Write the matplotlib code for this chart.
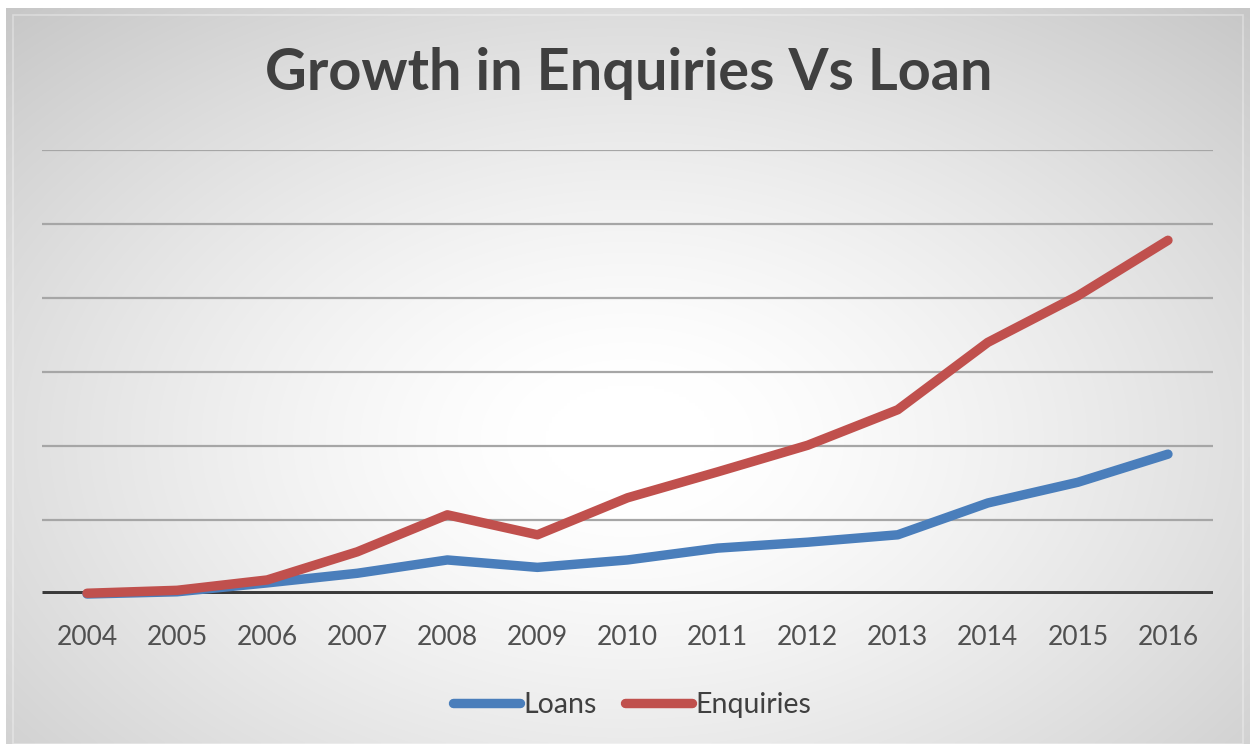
import numpy as np
import matplotlib
matplotlib.use("Agg")
import matplotlib.pyplot as plt
from matplotlib.lines import Line2D

years = ["2004", "2005", "2006", "2007", "2008", "2009", "2010",
         "2011", "2012", "2013", "2014", "2015", "2016"]
loans = [0.00, 0.03, 0.15, 0.28, 0.46, 0.36, 0.46, 0.62, 0.70, 0.80, 1.23, 1.51, 1.89]
enquiries = [0.01, 0.05, 0.19, 0.57, 1.07, 0.80, 1.30, 1.65, 2.01, 2.49, 3.40, 4.03, 4.78]

title = "Growth in Enquiries Vs Loan"
BLUE = "#4a7ebb"
RED = "#c0504d"
TEXT = "#404040"

W, H, DPI = 1256, 744, 100
fig = plt.figure(figsize=(W / DPI, H / DPI), dpi=DPI, facecolor="white")

def fx(px):
    return px / W

def fy(py):
    return 1 - py / H

# chart area with a radial gradient fill
bx0, by0, bx1, by1 = 6, 8, 1250, 744
bg = fig.add_axes([fx(bx0), fy(by1), fx(bx1 - bx0), (by1 - by0) / H])
gx = np.linspace(bx0, bx1, 400)
gy = np.linspace(by0, by1, 260)
XX, YY = np.meshgrid(gx, gy)
d = np.sqrt(((XX - 630) / 720) ** 2 + ((YY - 440) / 470) ** 2)
shade = 1.0 - 0.185 * np.clip(d - 0.12, 0, 1.3) ** 1.3
shade = np.clip(shade, 0, 1)
bg.imshow(np.dstack([shade, shade, shade]), extent=[0, 1, 0, 1], aspect="auto",
          interpolation="bilinear", origin="upper")
bg.set_xlim(0, 1)
bg.set_ylim(0, 1)
bg.axis("off")
bg.add_patch(plt.Rectangle((7 / (bx1 - bx0), 0.0), 1 - 14 / (bx1 - bx0), 1 - 7 / (by1 - by0),
                           fill=False, edgecolor=(1, 1, 1, 0.35), linewidth=1.2,
                           transform=bg.transAxes))

# plot area
px0, px1, py_top, py_base = 42, 1213, 150, 594
ax = fig.add_axes([fx(px0), fy(py_base), fx(px1 - px0), (py_base - py_top) / H])
ax.patch.set_alpha(0)
x = np.arange(len(years))
ax.set_xlim(-0.5, len(years) - 0.5)
ax.set_ylim(0, 6)
for g in range(1, 7):
    ax.axhline(g, color="#a6a6a6", linewidth=1.6, zorder=1)
ax.axhline(0, color="#3a3a3a", linewidth=5, zorder=2, solid_capstyle="butt")

ax.plot(x, loans, color=BLUE, linewidth=6.8, solid_capstyle="round",
        solid_joinstyle="round", zorder=3, clip_on=False)
ax.plot(x, enquiries, color=RED, linewidth=6.8, solid_capstyle="round",
        solid_joinstyle="round", zorder=4, clip_on=False)

for s in ax.spines.values():
    s.set_visible(False)
ax.set_yticks([])
ax.set_xticks(x)
ax.set_xticklabels(years, fontsize=19, color="#505050", family="Lato")
ax.tick_params(axis="x", length=0, pad=22)

fig.text(fx(629), fy(74), title, ha="center", va="center", fontsize=41.5,
         fontweight="bold", color=TEXT, family="Lato")

handles = [Line2D([], [], color=BLUE, linewidth=6.8, solid_capstyle="round"),
           Line2D([], [], color=RED, linewidth=6.8, solid_capstyle="round")]
leg = fig.legend(handles, ["Loans", "Enquiries"], loc="center",
                 bbox_to_anchor=(fx(632), fy(705)), ncol=2, frameon=False,
                 prop={"family": "Lato", "size": 20.5}, handlelength=2.35,
                 handletextpad=0.12, columnspacing=1.0)
for t in leg.get_texts():
    t.set_color(TEXT)

fig.savefig("out.png", dpi=DPI, facecolor="white")
